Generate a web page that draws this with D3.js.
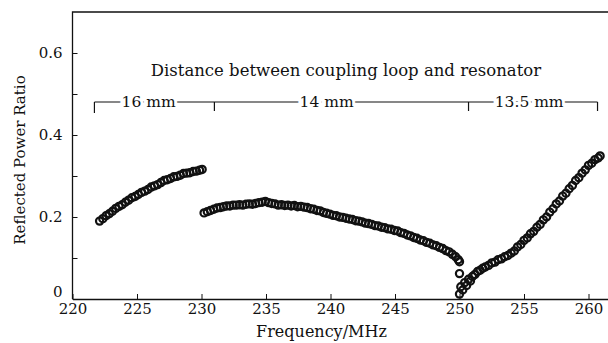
<!DOCTYPE html>
<html>
<head>
<meta charset="utf-8">
<script src="https://cdn.jsdelivr.net/npm/d3@7"></script>
<style>
  body { margin: 0; background: #fff; }
  svg { display: block; }
  text { font-family: "DejaVu Serif", serif; fill: #111; }
</style>
</head>
<body>
<script>
// 16 mm coupling distance: [MHz, ratio]
const seg16 = [
  [222.1, .190], [222.35, .196], [222.6, .203], [222.85, .208], [223.1, .214],
  [223.35, .221], [223.6, .226], [223.85, .230], [224.1, .236], [224.35, .241],
  [224.6, .247], [224.85, .250], [225.1, .255], [225.35, .260], [225.6, .263],
  [225.85, .267], [226.1, .273], [226.35, .276], [226.6, .279], [226.85, .284],
  [227.1, .289], [227.35, .291], [227.6, .294], [227.85, .298], [228.1, .299],
  [228.35, .302], [228.6, .306], [228.85, .307], [229.1, .308], [229.35, .311],
  [229.6, .312], [229.85, .314], [230.05, .316]
];
// 14 mm
const seg14 = [
  [230.2, .210], [230.45, .213], [230.7, .216], [230.95, .219], [231.2, .222],
  [231.45, .223], [231.7, .225], [231.95, .227], [232.2, .227], [232.45, .229],
  [232.7, .229], [232.95, .230], [233.2, .229], [233.45, .231], [233.7, .232],
  [233.95, .231], [234.2, .233], [234.45, .235], [234.7, .236], [234.95, .238],
  [235.2, .235], [235.45, .233], [235.7, .232], [235.95, .229], [236.2, .230],
  [236.45, .228], [236.7, .229], [236.95, .227], [237.2, .228], [237.45, .225],
  [237.7, .226], [237.95, .224], [238.2, .223], [238.45, .220], [238.7, .219],
  [238.95, .216], [239.2, .215], [239.45, .211], [239.7, .209], [239.95, .207],
  [240.2, .204], [240.45, .203], [240.7, .200], [240.95, .199], [241.2, .197],
  [241.45, .195], [241.7, .194], [241.95, .191], [242.2, .190], [242.45, .188],
  [242.7, .185], [242.95, .184], [243.2, .182], [243.45, .179], [243.7, .178],
  [243.95, .175], [244.2, .174], [244.45, .171], [244.7, .170], [244.95, .167],
  [245.2, .166], [245.45, .162], [245.7, .160], [245.95, .156], [246.2, .154],
  [246.45, .150], [246.7, .148], [246.95, .144], [247.2, .142], [247.45, .138],
  [247.7, .136], [247.95, .132], [248.2, .130], [248.45, .126], [248.7, .123],
  [248.95, .118], [249.2, .115], [249.45, .109], [249.7, .103], [249.9, .096],
  [250.0, .091]
];
// 13.5 mm
const seg135 = [
  [250.0, .012], [250.0, .062], [250.1, .030], [250.25, .022], [250.4, .040],
  [250.55, .033], [250.7, .048], [250.85, .044], [251.0, .055], [251.2, .060],
  [251.4, .067], [251.6, .070], [251.8, .075], [252.0, .078], [252.25, .082],
  [252.5, .088], [252.75, .090], [253.0, .096], [253.25, .098], [253.5, .103],
  [253.75, .106], [254.0, .112], [254.25, .117], [254.5, .127], [254.75, .133],
  [255.0, .143], [255.25, .149], [255.5, .159], [255.75, .165], [256.0, .175],
  [256.25, .182], [256.5, .193], [256.75, .200], [257.0, .212], [257.25, .220],
  [257.5, .232], [257.75, .239], [258.0, .251], [258.25, .258], [258.5, .269],
  [258.75, .277], [259.0, .289], [259.25, .296], [259.5, .307], [259.75, .315],
  [260.0, .326], [260.25, .331], [260.5, .340], [260.75, .344], [260.9, .349]
];

const xTicks = [220, 225, 230, 235, 240, 245, 250, 255, 260];
const yTicks = [0, 0.1, 0.2, 0.3, 0.4, 0.5, 0.6];
const yLabels = [0, 0.2, 0.4, 0.6];

// bracket: boundaries (MHz) and the distance written in each span
const bracketEdges = [221.7, 231.0, 250.7, 260.7];
const bracketNames = ["16 mm", "14 mm", "13.5 mm"];
const bracketLabelAt = [225.9, 239.7, 255.4];

const W = 608, H = 343;
const svg = d3.select("body").append("svg")
  .attr("width", W).attr("height", H);

const x = d3.scaleLinear().domain([220, 262]).range([72.5, 614.3]);
const y = d3.scaleLinear().domain([0, 0.7]).range([299, 12]);

// frame (left, top)
svg.append("path")
  .attr("d", `M${x(220)},${y(0)}V${y(0.7)}H${W}`)
  .attr("fill", "none").attr("stroke", "#111").attr("stroke-width", 1.3);

const xAxis = svg.append("g")
  .attr("transform", `translate(0,${y(0)})`)
  .call(d3.axisBottom(x).tickValues(xTicks).tickSizeInner(-5).tickSizeOuter(0).tickPadding(4));
xAxis.select(".domain").attr("stroke", "#111").attr("stroke-width", 1.3);
xAxis.selectAll(".tick line").attr("stroke", "#111");
xAxis.selectAll("text").attr("font-size", 15).attr("fill", "#111")
  .attr("font-family", "DejaVu Serif");

const yAxis = svg.append("g")
  .attr("transform", `translate(${x(220)},0)`)
  .call(d3.axisLeft(y).tickValues(yTicks).tickSizeInner(-5).tickSizeOuter(0).tickPadding(10)
    .tickFormat(d => yLabels.some(v => Math.abs(v - d) < 1e-9) ? (d === 0 ? "0" : d3.format(".1f")(d)) : ""));
yAxis.select(".domain").remove();
yAxis.selectAll(".tick line").attr("stroke", "#111");
yAxis.selectAll("text").attr("font-size", 15).attr("fill", "#111")
  .attr("font-family", "DejaVu Serif");
yAxis.selectAll(".tick").filter(d => d === 0).select("text").attr("dy", "-0.15em");

// axis titles
svg.append("text")
  .attr("x", x(239.3)).attr("y", 337)
  .attr("text-anchor", "middle").attr("font-size", 16)
  .text("Frequency/MHz");
svg.append("text")
  .attr("transform", `translate(25,160) rotate(-90)`)
  .attr("text-anchor", "middle").attr("font-size", 15)
  .text("Reflected Power Ratio");

// annotation
svg.append("text")
  .attr("x", x(241.2)).attr("y", 76)
  .attr("text-anchor", "middle").attr("font-size", 16.5)
  .text("Distance between coupling loop and resonator");

const by = 102;
const br = svg.append("g");
br.append("line")
  .attr("x1", x(bracketEdges[0])).attr("x2", x(bracketEdges[3]))
  .attr("y1", by).attr("y2", by)
  .attr("stroke", "#111").attr("stroke-width", 1.2);
br.selectAll("line.edge").data(bracketEdges).join("line")
  .attr("class", "edge")
  .attr("x1", d => x(d)).attr("x2", d => x(d))
  .attr("y1", by).attr("y2", (d, i) => i === 0 ? by + 11 : by + 9)
  .attr("stroke", "#111").attr("stroke-width", 1.2);
br.selectAll("text").data(bracketNames).join("text")
  .attr("x", (d, i) => x(bracketLabelAt[i])).attr("y", by + 5)
  .attr("text-anchor", "middle").attr("font-size", 15.5)
  .attr("stroke", "#fff").attr("stroke-width", 6).attr("paint-order", "stroke")
  .text(d => d);

// data
const pts = [].concat(seg16, seg14, seg135);
svg.append("g").selectAll("circle").data(pts).join("circle")
  .attr("cx", d => x(d[0])).attr("cy", d => y(d[1]))
  .attr("r", 3.6)
  .attr("fill", "none").attr("stroke", "#111").attr("stroke-width", 2.2);
</script>
</body>
</html>
